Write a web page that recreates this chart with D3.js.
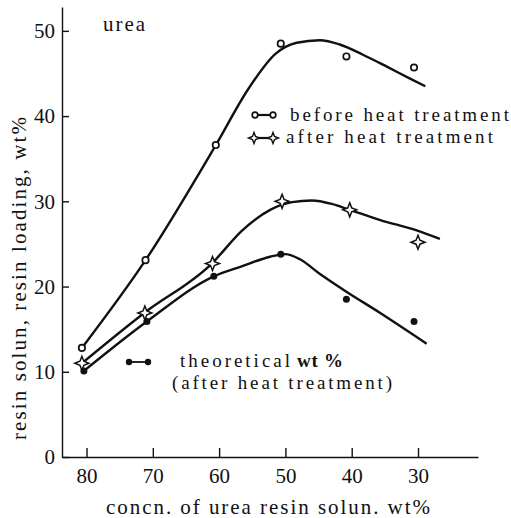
<!DOCTYPE html>
<html>
<head>
<meta charset="utf-8">
<script src="https://cdn.jsdelivr.net/npm/d3@7"></script>
<style>
  body { margin: 0; background: #fff; }
  text { font-family: "Liberation Serif", "DejaVu Serif", serif; fill: #111; }
</style>
</head>
<body>
<svg id="chart" width="511" height="518"></svg>
<script>
var concBefore = [80.7, 71.1, 60.5, 50.7, 40.8, 30.6];
var loadBefore = [12.8, 23.1, 36.6, 48.5, 47.0, 45.7];
var concAfter = [80.7, 71.2, 61.0, 50.5, 40.3, 30.0];
var loadAfter = [11.0, 16.9, 22.7, 30.0, 29.0, 25.2];
var concTheo = [80.4, 70.9, 60.8, 50.7, 40.8, 30.6];
var loadTheo = [10.1, 15.9, 21.2, 23.8, 18.5, 15.9];

// hand-drawn smooth curves through the data
var fitBeforeX = [80.7, 71.1, 60.5, 55.5, 51.5, 48.3, 44.8, 41.8, 38.3, 34.7, 31.2, 28.9];
var fitBeforeY = [12.8, 23.1, 36.6, 43.3, 47.3, 48.6, 48.9, 48.4, 47.2, 45.8, 44.4, 43.5];
var fitAfterX = [80.7, 71.3, 61.1, 56.5, 52.3, 49.0, 46.0, 43.0, 40.3, 35.7, 30.2, 26.7];
var fitAfterY = [11.0, 16.9, 22.7, 26.6, 29.0, 29.9, 30.1, 29.7, 29.0, 27.8, 26.6, 25.6];
var fitTheoX = [80.4, 70.9, 60.8, 56.5, 52.3, 50.0, 47.8, 45.0, 40.8, 35.7, 28.7];
var fitTheoY = [10.1, 15.9, 21.2, 22.4, 23.5, 23.8, 23.2, 21.6, 19.4, 16.9, 13.3];

var xTicks = [80, 70, 60, 50, 40, 30];
var yTicks = [0, 10, 20, 30, 40, 50];

var svg = d3.select("#chart");

var x = d3.scaleLinear().domain([83.7, 20.95]).range([62, 478]);
var y = d3.scaleLinear().domain([0, 52.8]).range([457, 7]);

function pairs(xs, ys){
	return xs.map(function(v, i){ return [v, ys[i]]; });
}

// axes
var gx = svg.append("g").attr("transform", "translate(0,457)")
	.call(d3.axisBottom(x).tickValues(xTicks).tickSizeInner(-9).tickSizeOuter(0).tickPadding(11));
var gy = svg.append("g").attr("transform", "translate(62,0)")
	.call(d3.axisLeft(y).tickValues(yTicks).tickSizeInner(-7).tickSizeOuter(0).tickPadding(7));
[gx, gy].forEach(function(g){
	g.attr("font-family", null).attr("font-size", null);
	g.selectAll("path,line").attr("stroke", "#111").attr("stroke-width", 1.4);
	g.selectAll("text").style("font-size", "21px");
});

// curves
var line = d3.line()
	.x(function(d){ return x(d[0]); })
	.y(function(d){ return y(d[1]); })
	.curve(d3.curveMonotoneX);

[[fitBeforeX, fitBeforeY], [fitAfterX, fitAfterY], [fitTheoX, fitTheoY]].forEach(function(f){
	svg.append("path").datum(pairs(f[0], f[1]))
		.attr("d", line)
		.attr("fill", "none")
		.attr("stroke", "#111")
		.attr("stroke-width", 2.4);
});

// 4-pointed star marker
function star(r){
	var k = r * 0.28;
	return "M0," + (-r) + "L" + k + "," + (-k) + "L" + r + ",0L" + k + "," + k +
		"L0," + r + "L" + (-k) + "," + k + "L" + (-r) + ",0L" + (-k) + "," + (-k) + "Z";
}

// markers
svg.append("g").selectAll("circle").data(pairs(concBefore, loadBefore)).join("circle")
	.attr("cx", function(d){ return x(d[0]); })
	.attr("cy", function(d){ return y(d[1]); })
	.attr("r", 3.2).attr("fill", "#fff").attr("stroke", "#111").attr("stroke-width", 1.7);

svg.append("g").selectAll("path").data(pairs(concAfter, loadAfter)).join("path")
	.attr("transform", function(d){ return "translate(" + x(d[0]) + "," + y(d[1]) + ")"; })
	.attr("d", star(7)).attr("fill", "#fff").attr("stroke", "#111").attr("stroke-width", 1.5);

svg.append("g").selectAll("circle").data(pairs(concTheo, loadTheo)).join("circle")
	.attr("cx", function(d){ return x(d[0]); })
	.attr("cy", function(d){ return y(d[1]); })
	.attr("r", 3.5).attr("fill", "#111");

// legend
var lg = svg.append("g");
lg.append("line").attr("x1", 255).attr("x2", 273).attr("y1", 115).attr("y2", 115).attr("stroke", "#111").attr("stroke-width", 2.2);
[255, 273].forEach(function(cx){
	lg.append("circle").attr("cx", cx).attr("cy", 115).attr("r", 2.8).attr("fill", "#fff").attr("stroke", "#111").attr("stroke-width", 1.7);
});
lg.append("line").attr("x1", 254).attr("x2", 273).attr("y1", 138).attr("y2", 138).attr("stroke", "#111").attr("stroke-width", 2.2);
[254, 273].forEach(function(cx){
	lg.append("path").attr("transform", "translate(" + cx + ",138)").attr("d", star(5.5)).attr("fill", "#fff").attr("stroke", "#111").attr("stroke-width", 1.4);
});
lg.append("line").attr("x1", 129).attr("x2", 148).attr("y1", 362).attr("y2", 362).attr("stroke", "#111").attr("stroke-width", 1.8);
[129, 148].forEach(function(cx){
	lg.append("circle").attr("cx", cx).attr("cy", 362).attr("r", 3.2).attr("fill", "#111");
});

function label(txt, tx, ty, w, size, weight){
	return svg.append("text").attr("x", tx).attr("y", ty)
		.attr("textLength", w).attr("lengthAdjust", "spacing")
		.style("font-size", size + "px").style("font-weight", weight || "normal")
		.text(txt);
}
label("before heat treatment", 290, 121, 219, 19);
label("after heat treatment", 286, 143, 207, 19);
label("urea", 103, 31, 42, 21);
label("theoretical", 180, 367, 110, 19);
label("wt %", 297, 367, 46, 19, "bold");
label("(after heat treatment)", 172, 389, 220, 19);
label("concn. of urea resin solun. wt%", 106, 514, 324, 21);

svg.append("text")
	.attr("transform", "translate(25.5,278.5) rotate(-90)")
	.attr("text-anchor", "middle")
	.attr("textLength", 323).attr("lengthAdjust", "spacing")
	.style("font-size", "21px")
	.text("resin solun, resin loading, wt%");
</script>
</body>
</html>
